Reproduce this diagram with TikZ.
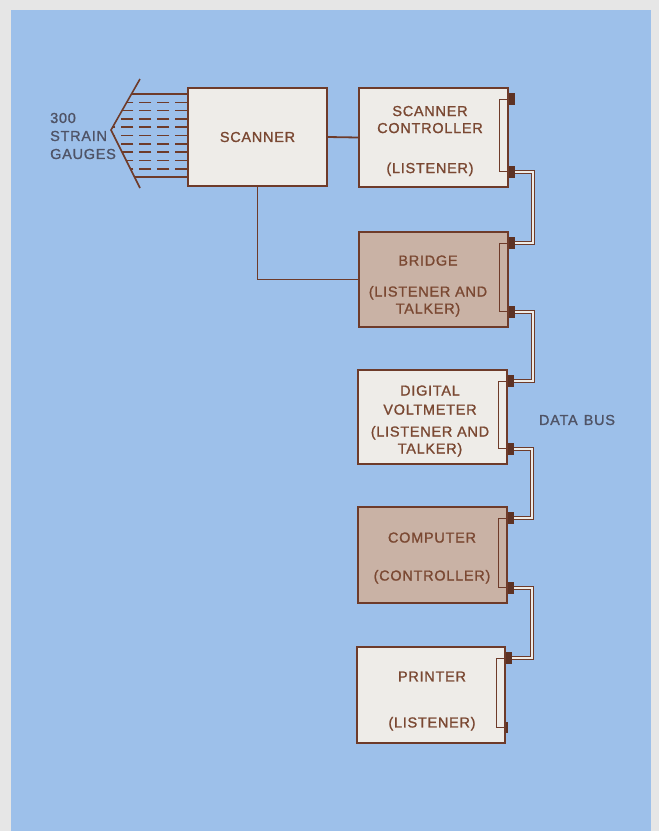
\documentclass[tikz,border=0pt]{standalone}
\usepackage{fontspec}
\setmainfont{Liberation Sans}
\newfontfamily\lettering[LetterSpace=5,FakeBold=1.2]{Liberation Sans}
\usetikzlibrary{calc,positioning}
\definecolor{paper}{HTML}{E6E6E6}
\definecolor{panel}{HTML}{9DC0EA}
\definecolor{boxlight}{HTML}{EEECE8}
\definecolor{boxtan}{HTML}{C9B2A5}
\definecolor{rust}{HTML}{6E3B2A}
\definecolor{inkbrown}{HTML}{7A4832}
\definecolor{slate}{HTML}{4F5366}
\tikzset{
  unit/.style={draw=rust,line width=1.5pt,fill=#1,minimum width=149pt,
    minimum height=96pt,inner sep=0pt},
  caption/.style={text=inkbrown,font=\lettering\fontsize{14.5}{17}\selectfont,
    align=center,inner sep=0pt},
  tag/.style={text=slate,font=\lettering\fontsize{14.5}{18}\selectfont,
    align=left,inner sep=0pt},
  wire/.style={draw=rust,line width=1.8pt},
  tap/.style={draw=rust,line width=1.2pt},
  bus/.style={draw=rust,line width=1.1pt,double=boxlight,double distance=2pt},
  port/.style={fill=rust!85!black,minimum width=6pt,minimum height=12pt,
    inner sep=0pt,anchor=west}}

\begin{document}
\begin{tikzpicture}[x=1pt,y=-1pt]
\path[use as bounding box,fill=paper] (0,0) rectangle (659,831);
\fill[panel] (11,10) rectangle (651,831);

% strain gauges into the scanner
\node[unit=boxlight,minimum width=139pt,minimum height=98pt,caption] (scan) at (257.5,137) {SCANNER};
\coordinate (gTop) at (140,79);
\coordinate (gTip) at (111,130);
\coordinate (gBot) at (140,188);
\draw[wire,line width=1.6pt] (gTop) -- (gTip) -- (gBot);
\foreach \y in {94,177} {
  \pgfmathsetmacro\gx{(\y<130) ? (140-29*(\y-79)/51) : (111+29*(\y-130)/58)}
  \draw[wire,line width=1.6pt] (scan.west |- 0,\y) -- (\gx,\y);
}
\foreach \i in {1,...,9} {
  \pgfmathsetmacro\y{94+8.3*\i}
  \pgfmathsetmacro\gx{(\y<130) ? (140-29*(\y-79)/51) : (111+29*(\y-130)/58)}
  \draw[wire,line width=1.6pt,dash pattern=on 12pt off 6pt] (scan.west |- 0,\y) -- (\gx,\y);
}
\node[tag,anchor=west] (gLabel) at (50,136) {300\\STRAIN\\GAUGES};

% instruments on the bus
\node[unit=boxlight,minimum height=99pt] (ctl) at (433.5,137.5) {};
\node[unit=boxtan,minimum height=95pt] (brg) at (433.5,279.5) {};
\node[unit=boxlight,minimum height=94pt] (dvm) at (432.5,417) {};
\node[unit=boxtan] (cmp) at (432.5,555) {};
\node[unit=boxlight,minimum width=148pt] (prn) at (431,695) {};

\node[caption] (ctlT) at (430,141) {SCANNER\\CONTROLLER\\[23pt](LISTENER)};
\node[caption] (brgT) at (428,286) {BRIDGE\\[14pt](LISTENER AND\\TALKER)};
\node[caption] (dvmT) at (430,421) {DIGITAL\\[2pt]VOLTMETER\\[5pt](LISTENER AND\\TALKER)};
\node[caption] (cmpT) at (432,558) {COMPUTER\\[21pt](CONTROLLER)};
\node[caption] (prnT) at (432,701) {PRINTER\\[29pt](LISTENER)};
\node[tag] (busT) at (577,420) {DATA\hspace{6pt}BUS};

\draw[wire] (scan.east) -- (ctl.west);
\draw[wire] (scan.south) |- (brg.west);

% ports and bus
\foreach \u in {ctl,brg,dvm,cmp,prn}
  \coordinate (\u-in) at ($(\u.north east)+(0,12)$);
\foreach \u in {ctl,brg,dvm,cmp}
  \coordinate (\u-out) at ($(\u.south east)+(0,-16)$);
\coordinate (prn-end) at ($(prn.south east)+(0,-16)$);

\foreach \u in {ctl,brg,dvm,cmp}
  \draw[tap] (\u-in) -- ++(-9,0) |- (\u-out);
\draw[tap] (prn-in) -- ++(-9,0) |- (prn-end);

\draw[bus] (ctl-out) -- ++(24,0) |- (brg-in);
\draw[bus] (brg-out) -- ++(24,0) |- (dvm-in);
\draw[bus] (dvm-out) -- ++(24,0) |- (cmp-in);
\draw[bus] (cmp-out) -- ++(24,0) |- (prn-in);

\foreach \u in {ctl,brg,dvm,cmp,prn}
  \node[port] (\u-inB) at (\u-in) {};
\foreach \u in {ctl,brg,dvm,cmp}
  \node[port] (\u-outB) at (\u-out) {};
\node[port,minimum width=2.5pt,minimum height=11pt] (prn-tick) at (prn-end) {};
\end{tikzpicture}
\end{document}
